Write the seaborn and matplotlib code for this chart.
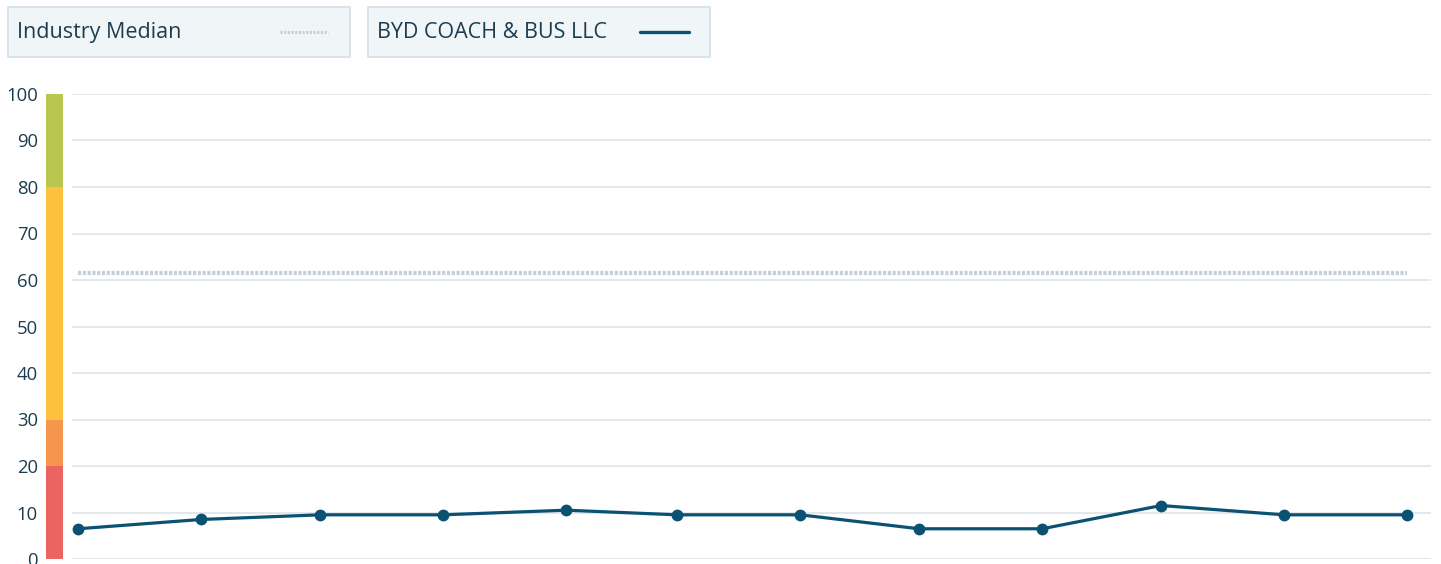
import pandas as pd
import numpy as np
import matplotlib.pyplot as plt
import seaborn as sns
from matplotlib.patches import Rectangle
from matplotlib.lines import Line2D

# data
months = ['2022-10-01', '2022-11-01', '2022-12-01', '2023-01-01', '2023-02-01', '2023-03-01',
          '2023-04-01', '2023-05-01', '2023-06-01', '2023-07-01', '2023-08-01', '2023-09-01']
company_scores = [6.5, 8.5, 9.5, 9.5, 10.5, 9.5, 9.5, 6.5, 6.5, 11.5, 9.5, 9.5]
industry_median = [61.5] * 12
band_edges = [0, 20, 30, 80, 100]
band_colors = ['#ec6460', '#f5964f', '#fdc13d', '#b9c650']
y_ticks = [0, 10, 20, 30, 40, 50, 60, 70, 80, 90, 100]
series_names = ['Industry Median', 'BYD COACH & BUS LLC']

df = pd.DataFrame({'date': pd.to_datetime(months),
                   'score': company_scores,
                   'median': industry_median})

sns.set_style('white')
plt.rcParams['font.family'] = ['Open Sans', 'DejaVu Sans']

text_color = '#1d3d4f'
line_color = '#0b5272'
median_color = '#c6ced8'
grid_color = '#dde4e9'

W, H = 1441, 564
fig = plt.figure(figsize=(W / 100, H / 100), dpi=100)
ax = fig.add_axes([72 / W, 1 - 559 / H, (1431 - 72) / W, (559 - 94) / H])

# median line
sns.lineplot(data=df, x='date', y='median', ax=ax, color=median_color,
             linewidth=3.0, linestyle=(0, (0.75, 0.4)), zorder=2)
# company line
sns.lineplot(data=df, x='date', y='score', ax=ax, color=line_color,
             linewidth=2.3, marker='o', markersize=8.5, markeredgewidth=0, zorder=3)

ax.set_ylim(0, 100)
ax.set_xlim(df['date'].iloc[0] - pd.Timedelta(days=1.5), df['date'].iloc[-1] + pd.Timedelta(days=6))
ax.set_yticks(y_ticks)
ax.yaxis.grid(True, color=grid_color, linewidth=1.2)
ax.set_axisbelow(True)
ax.set_xticks([])
ax.set_xlabel('')
ax.set_ylabel('')
ax.tick_params(axis='y', length=0, pad=24.5, labelsize=13.3, labelcolor=text_color)
for s in ax.spines.values():
    s.set_visible(False)

# colored rating band at left
bax = fig.add_axes([46 / W, 1 - 559 / H, 17 / W, (559 - 94) / H])
bottoms = band_edges[:-1]
heights = np.diff(band_edges)
bax.bar([0] * len(heights), heights, bottom=bottoms, color=band_colors, width=1.0, linewidth=0)
bax.set_xlim(-0.5, 0.5)
bax.set_ylim(0, 100)
bax.axis('off')

# legend boxes
boxes = [(8, 350), (368, 710)]
for (x0, x1), name in zip(boxes, series_names):
    fig.patches.append(Rectangle((x0 / W, 1 - 57 / H), (x1 - x0) / W, 50 / H,
                                 transform=fig.transFigure, facecolor='#f0f5f8',
                                 edgecolor='#d5dfe5', linewidth=1.2))
    fig.text((x0 + 9) / W, 1 - 38 / H, name, fontsize=15.5, color=text_color,
             va='baseline', ha='left')

fig.lines.append(Line2D([280 / W, 328 / W], [1 - 32 / H, 1 - 32 / H], transform=fig.transFigure,
                        color=median_color, linewidth=2.2, linestyle=(0, (0.7, 0.5))))
fig.lines.append(Line2D([640 / W, 689 / W], [1 - 32 / H, 1 - 32 / H], transform=fig.transFigure,
                        color=line_color, linewidth=2.4))

fig.savefig('out.png', dpi=100)
